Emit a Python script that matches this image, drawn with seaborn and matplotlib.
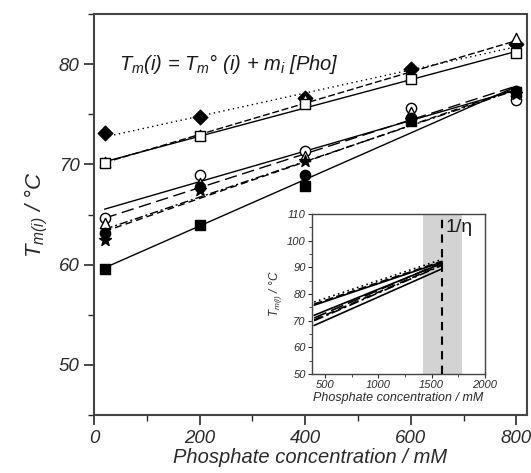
import numpy as np
import pandas as pd
import matplotlib
matplotlib.use("Agg")
import matplotlib.pyplot as plt
import seaborn as sns
from matplotlib.ticker import MultipleLocator

# ---------------- data ----------------
phosphate = [20, 200, 400, 600, 800]
tm_diamond = [73.1, 74.7, 76.6, 79.5, 82.0]
tm_tri_up = [70.2, 72.9, 76.5, 78.7, 82.6]
tm_square_open = [70.1, 72.8, 76.0, 78.5, 81.1]
tm_circle_open = [64.7, 69.0, 71.3, 75.6, 76.4]
tm_tri_low = [64.2, 68.2, 70.8, 75.2, 77.3]
tm_star = [62.5, 67.5, 70.3, 74.4, 77.0]
tm_circle_filled = [63.2, 67.8, 69.0, 74.6, 77.3]
tm_square_filled = [59.6, 64.0, 67.9, 74.3, 77.2]

inset_x = [400, 1600]
inset_diamond = [77.0, 93.0]
inset_tri_up = [76.2, 92.3]
inset_square_open = [75.8, 92.0]
inset_circle_open = [72.0, 91.5]
inset_tri_low = [71.0, 91.8]
inset_star = [70.3, 91.0]
inset_circle_filled = [70.0, 90.8]
inset_square_filled = [68.2, 89.5]
shade_range = [1420, 1780]
eta_line = 1600

# ---------------- style ----------------
sns.set_style("ticks")
plt.rcParams["font.family"] = ["Liberation Sans", "DejaVu Sans"]
plt.rcParams["mathtext.fontset"] = "custom"
plt.rcParams["mathtext.it"] = "Liberation Sans:italic"
plt.rcParams["mathtext.rm"] = "Liberation Sans:italic"

TXT = "#2a2a2a"
fig = plt.figure(figsize=(5.31, 4.73), dpi=100)
ax = fig.add_axes([0.177, 0.1226, 0.8155, 0.8474])

series = [
    (tm_diamond, "D", True, (0, (1, 2.5))),
    (tm_tri_up, "^", False, (0, (5, 2))),
    (tm_square_open, "s", False, "-"),
    (tm_circle_open, "o", False, "-"),
    (tm_tri_low, "^", False, (0, (9, 4))),
    (tm_star, "*", True, (0, (5, 3))),
    (tm_circle_filled, "o", True, (0, (6, 2, 1.5, 2))),
    (tm_square_filled, "s", True, "-"),
]

for vals, mk, filled, ls in series:
    df = pd.DataFrame({"x": phosphate, "y": vals})
    sns.regplot(data=df, x="x", y="y", ax=ax, ci=None, marker=mk,
                scatter_kws=dict(s=55 if mk != "*" else 80,
                                 facecolor="black" if filled else "white",
                                 edgecolor="black", linewidths=1.0,
                                 alpha=1, zorder=3),
                line_kws=dict(color="black", lw=1.0, linestyle=ls, zorder=2))

ax.set_xlim(0, 820)
ax.set_ylim(45, 85)
ax.set_xticks([0, 200, 400, 600, 800])
ax.set_yticks([50, 60, 70, 80])
ax.xaxis.set_minor_locator(MultipleLocator(100))
ax.yaxis.set_minor_locator(MultipleLocator(5))
ax.tick_params(which="major", direction="out", length=7, width=1.2,
               labelsize=13.5, colors=TXT)
ax.tick_params(which="minor", direction="out", length=4, width=1.0, colors=TXT)
for lab in ax.get_xticklabels() + ax.get_yticklabels():
    lab.set_fontstyle("italic")
for sp in ax.spines.values():
    sp.set_visible(True)
    sp.set_linewidth(1.5)
    sp.set_color("#444444")
ax.set_xlabel("Phosphate concentration / mM", fontsize=14.5, style="italic",
              color=TXT, labelpad=1)
ax.set_ylabel(r"$T_{m(i)}$ / °C", fontsize=16, style="italic", color=TXT,
              labelpad=6)
ax.text(48, 80, r"$T_m(i)$ = $T_m$° $(i)$ + $m_i$ [Pho]", fontsize=14.5,
        style="italic", va="center", ha="left", color="#1a1a1a")

# ---------------- inset ----------------
axi = fig.add_axes([0.5876, 0.2093, 0.3258, 0.3383])
axi.axvspan(shade_range[0], shade_range[1], color="#d3d3d3", lw=0, zorder=0)
axi.axvline(eta_line, color="black", lw=1.5, linestyle=(0, (4, 3)), zorder=1)
inset_series = [
    (inset_diamond, (0, (1, 2))),
    (inset_tri_up, (0, (5, 2))),
    (inset_square_open, "-"),
    (inset_circle_open, "-"),
    (inset_tri_low, (0, (8, 3))),
    (inset_star, (0, (5, 3))),
    (inset_circle_filled, (0, (6, 2, 1.5, 2))),
    (inset_square_filled, "-"),
]
for vals, ls in inset_series:
    sns.lineplot(x=inset_x, y=vals, ax=axi, color="black", lw=1.2,
                 linestyle=ls, zorder=2)
axi.set_xlim(380, 2000)
axi.set_ylim(50, 110)
axi.set_xticks([500, 1000, 1500, 2000])
axi.set_yticks([50, 60, 70, 80, 90, 100, 110])
axi.xaxis.set_minor_locator(MultipleLocator(250))
axi.yaxis.set_minor_locator(MultipleLocator(5))
axi.tick_params(which="major", direction="out", length=3, width=0.8,
                labelsize=8, pad=1.5, colors=TXT)
axi.tick_params(which="minor", direction="out", length=2, width=0.6, colors=TXT)
for lab in axi.get_xticklabels() + axi.get_yticklabels():
    lab.set_fontstyle("italic")
for sp in axi.spines.values():
    sp.set_visible(True)
    sp.set_linewidth(1.0)
    sp.set_color("#444444")
axi.set_xlabel("Phosphate concentration / mM", fontsize=9, style="italic",
               labelpad=1, color=TXT)
axi.set_ylabel(r"$T_{m(i)}$ / °C", fontsize=8.5, style="italic",
               labelpad=2, color=TXT)
axi.text(1630, 108, "1/η", fontsize=14, va="top", ha="left", color="#1a1a1a")

fig.savefig("out.png", dpi=100)
